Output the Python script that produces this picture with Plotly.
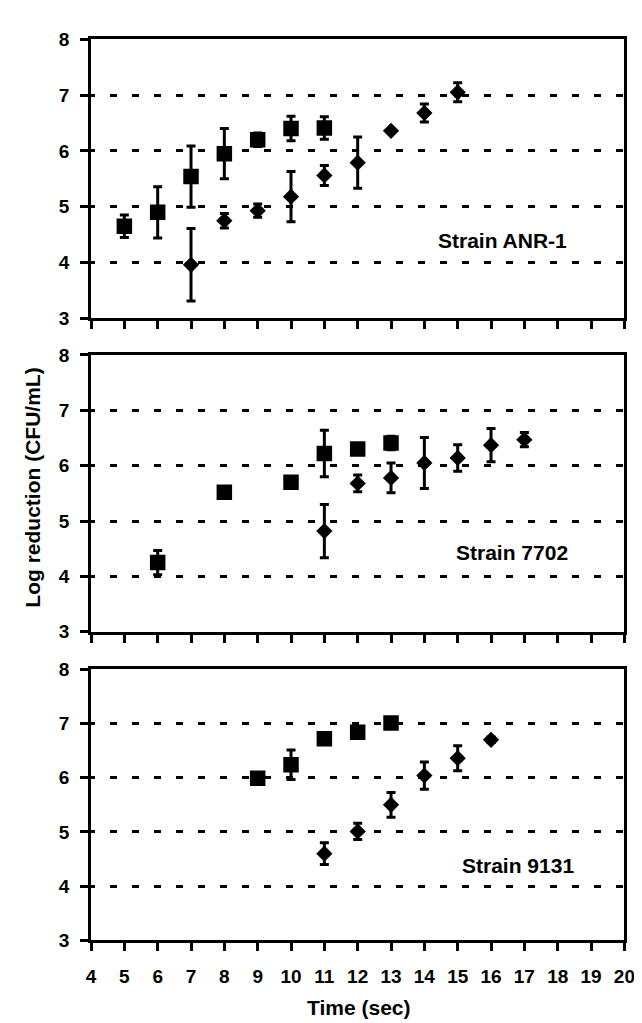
import plotly.graph_objects as go

W, H = 642, 1023

# ---------------- data ----------------
anr_sq_x = [5, 6, 7, 8, 9, 10, 11]
anr_sq_y = [4.65, 4.90, 5.54, 5.95, 6.20, 6.40, 6.41]
anr_sq_e = [0.20, 0.46, 0.55, 0.45, 0.12, 0.22, 0.20]
anr_di_x = [7, 8, 9, 10, 11, 12, 13, 14, 15]
anr_di_y = [3.96, 4.75, 4.93, 5.18, 5.56, 5.79, 6.36, 6.68, 7.05]
anr_di_e = [0.65, 0.13, 0.12, 0.45, 0.18, 0.46, 0.0, 0.16, 0.17]

s7702_sq_x = [6, 8, 10, 11, 12, 13]
s7702_sq_y = [4.25, 5.52, 5.70, 6.22, 6.30, 6.41]
s7702_sq_e = [0.22, 0.0, 0.10, 0.42, 0.10, 0.12]
s7702_di_x = [11, 12, 13, 14, 15, 16, 17]
s7702_di_y = [4.82, 5.68, 5.78, 6.05, 6.14, 6.37, 6.47]
s7702_di_e = [0.48, 0.15, 0.27, 0.46, 0.24, 0.30, 0.13]

s9131_sq_x = [9, 10, 11, 12, 13]
s9131_sq_y = [5.99, 6.24, 6.72, 6.84, 7.01]
s9131_sq_e = [0.10, 0.27, 0.08, 0.10, 0.0]
s9131_di_x = [11, 12, 13, 14, 15, 16]
s9131_di_y = [4.60, 5.01, 5.50, 6.04, 6.36, 6.70]
s9131_di_e = [0.20, 0.15, 0.23, 0.25, 0.23, 0.05]

strain_labels = ["Strain ANR-1", "Strain 7702", "Strain 9131"]
label_pos = [(16.34, 4.40), (16.63, 4.44), (16.81, 4.38)]
x_ticks = list(range(4, 21))
y_ticks = [3, 4, 5, 6, 7, 8]

panels = [
    (anr_sq_x, anr_sq_y, anr_sq_e, anr_di_x, anr_di_y, anr_di_e),
    (s7702_sq_x, s7702_sq_y, s7702_sq_e, s7702_di_x, s7702_di_y, s7702_di_e),
    (s9131_sq_x, s9131_sq_y, s9131_sq_e, s9131_di_x, s9131_di_y, s9131_di_e),
]

# ---------------- geometry (pixels) ----------------
x_left, x_right = 80, 627
panel_px = [(21.7, 306.7), (344.0, 626.7), (665.0, 941.7)]

FONT = "Liberation Sans, Arial, sans-serif"

fig = go.Figure()

for i, (sx, sy, se, dx, dy, de) in enumerate(panels):
    n = "" if i == 0 else str(i + 1)
    xa, ya = "x" + n, "y" + n
    fig.add_trace(go.Scatter(
        x=sx, y=sy, mode="markers", xaxis=xa, yaxis=ya,
        marker=dict(symbol="square", size=15.5, color="black"),
        error_y=dict(type="data", array=se, color="black", thickness=3, width=4.5),
        showlegend=False))
    fig.add_trace(go.Scatter(
        x=dx, y=dy, mode="markers", xaxis=xa, yaxis=ya,
        marker=dict(symbol="diamond", size=12.5, color="black"),
        error_y=dict(type="data", array=de, color="black", thickness=3, width=4.5),
        showlegend=False))

layout = dict(
    width=W, height=H,
    margin=dict(l=0, r=0, t=0, b=0),
    paper_bgcolor="white", plot_bgcolor="white",
    showlegend=False,
    annotations=[],
)

for i in range(3):
    n = "" if i == 0 else str(i + 1)
    top, bot = panel_px[i]
    layout["xaxis" + n] = dict(
        domain=[x_left / W, x_right / W], anchor="y" + n,
        range=[4, 20], tickvals=x_ticks,
        showticklabels=(i == 2),
        ticks="outside", ticklen=8, tickwidth=3, tickcolor="black",
        showline=True, linewidth=3, linecolor="black", mirror=True,
        showgrid=False, zeroline=False, ticklabelstandoff=9,
        tickfont=dict(family=FONT, size=19, color="black", weight="bold"),
    )
    layout["yaxis" + n] = dict(
        domain=[1 - bot / H, 1 - top / H], anchor="x" + n,
        range=[3, 8], tickvals=y_ticks,
        ticks="outside", ticklen=8, tickwidth=3, tickcolor="black",
        showline=True, linewidth=3, linecolor="black", mirror=True,
        showgrid=True, gridcolor="black", gridwidth=3,
        griddash="4px,15px,3px,0px",
        zeroline=False, ticklabelstandoff=7,
        tickfont=dict(family=FONT, size=19, color="black", weight="bold"),
    )
    lx, ly = label_pos[i]
    layout["annotations"].append(dict(
        x=lx, y=ly, xref="x" + n, yref="y" + n, text=strain_labels[i],
        showarrow=False, xanchor="center", yanchor="middle",
        font=dict(family=FONT, size=21, color="black", weight="bold")))

layout["annotations"].append(dict(
    x=20 / W, y=1 - 480 / H, xref="paper", yref="paper",
    text="Log reduction (CFU/mL)", textangle=-90, showarrow=False,
    xanchor="center", yanchor="middle",
    font=dict(family=FONT, size=21, color="black", weight="bold")))
layout["annotations"].append(dict(
    x=355 / W, y=1 - 1010 / H, xref="paper", yref="paper",
    text="Time (sec)", showarrow=False,
    xanchor="center", yanchor="middle",
    font=dict(family=FONT, size=21, color="black", weight="bold")))

fig.update_layout(**layout)
fig.write_html("out.html")
